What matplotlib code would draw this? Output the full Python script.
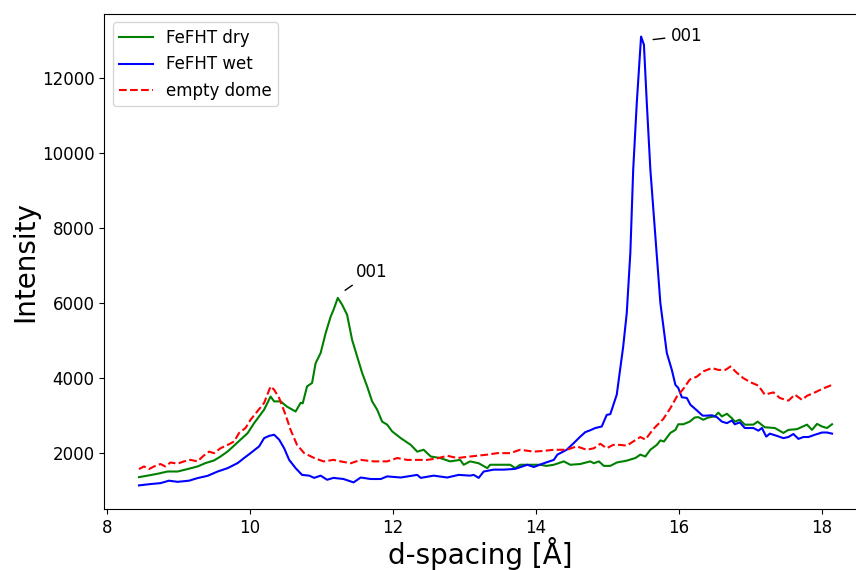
import matplotlib
matplotlib.use('Agg')
import matplotlib.pyplot as plt
import numpy as np

# values
dry_d = [8.45, 8.57, 8.71, 8.85, 8.99, 9.13, 9.27, 9.38, 9.50, 9.59, 9.69, 9.78, 9.87, 9.97, 10.06,
         10.20, 10.29, 10.34, 10.43, 10.52, 10.64,
         10.71, 10.74, 10.80, 10.87, 10.92, 10.99, 11.06, 11.13, 11.17, 11.23, 11.29, 11.36, 11.43, 11.50,
         11.57, 11.64, 11.71, 11.78, 11.85, 11.92, 11.99, 12.11, 12.25, 12.34, 12.43, 12.53, 12.66, 12.80,
         12.94, 12.99, 13.08, 13.20, 13.32, 13.36, 13.50, 13.64, 13.71, 13.78, 13.92, 14.06, 14.15, 14.25,
         14.39, 14.48, 14.62, 14.76, 14.81, 14.88, 14.95, 15.04, 15.13, 15.27, 15.39, 15.46, 15.53, 15.60,
         15.69, 15.74, 15.79, 15.88, 15.95, 15.99, 16.06, 16.15, 16.22, 16.27, 16.34, 16.41, 16.50, 16.55,
         16.60, 16.67, 16.74, 16.78, 16.85, 16.92, 17.04, 17.10, 17.20, 17.34, 17.46, 17.53, 17.65, 17.79,
         17.86, 17.93, 18.00, 18.07, 18.14]
dry_i = [1350, 1390, 1440, 1500, 1500, 1565, 1635, 1725, 1795, 1900, 2035, 2190, 2350, 2525, 2790,
         3150, 3500, 3370, 3370, 3230, 3100,
         3330, 3320, 3770, 3860, 4390, 4660, 5190, 5630, 5810, 6130, 5950, 5680, 5010, 4570,
         4130, 3770, 3370, 3150, 2830, 2750, 2570, 2390, 2210, 2030, 2080, 1900, 1860, 1770,
         1810, 1680, 1770, 1720, 1590, 1680, 1680, 1680, 1590, 1680, 1680, 1680, 1650, 1680,
         1770, 1680, 1700, 1770, 1720, 1770, 1650, 1650, 1740, 1790, 1860, 1950, 1900, 2080,
         2210, 2330, 2300, 2530, 2610, 2760, 2760, 2830, 2940, 2950, 2880, 2940, 2970, 3070,
         2970, 3040, 2920, 2830, 2880, 2750, 2750, 2830, 2680, 2660, 2530, 2610, 2630, 2750,
         2610, 2770, 2700, 2660, 2760]

wet_d = [8.45, 8.61, 8.75, 8.87, 8.99, 9.15, 9.27, 9.41, 9.55, 9.69, 9.83, 9.92, 10.01, 10.13, 10.20,
         10.27, 10.34, 10.41, 10.48, 10.55, 10.64, 10.73, 10.83, 10.90, 10.99, 11.08, 11.17, 11.31, 11.45,
         11.55, 11.69, 11.83, 11.92, 12.11, 12.34, 12.39, 12.57, 12.76, 12.92, 13.08, 13.13, 13.20, 13.27,
         13.41, 13.55, 13.71, 13.88, 13.97, 14.11, 14.25, 14.30, 14.43, 14.53, 14.62, 14.69, 14.76, 14.83,
         14.92, 14.99, 15.04, 15.13, 15.22, 15.27, 15.32, 15.36, 15.41, 15.47, 15.51, 15.55, 15.60, 15.67,
         15.74, 15.83, 15.90, 15.95, 15.99, 16.04, 16.11, 16.16, 16.25, 16.33, 16.39, 16.46, 16.53, 16.60,
         16.67, 16.74, 16.78, 16.85, 16.92, 17.04, 17.11, 17.16, 17.22, 17.27, 17.37, 17.46, 17.53, 17.60,
         17.67, 17.74, 17.81, 17.90, 18.00, 18.07, 18.14]
wet_i = [1130, 1165, 1190, 1255, 1225, 1255, 1325, 1385, 1500, 1590, 1725, 1860, 1990, 2170, 2390,
         2450, 2480, 2350, 2120, 1810, 1590, 1410, 1390, 1330, 1390, 1280, 1330, 1300, 1210,
         1340, 1300, 1300, 1370, 1340, 1410, 1330, 1390, 1340, 1410, 1390, 1410, 1330, 1500,
         1550, 1550, 1570, 1680, 1620, 1720, 1810, 1950, 2080, 2260, 2430, 2550, 2600, 2660,
         2700, 3010, 3030, 3550, 4830, 5730, 7330, 9550, 11330, 13100, 12880, 11330, 9550, 7770,
         5990, 4660, 4210, 3810, 3730, 3480, 3460, 3280, 3130, 2990, 2990, 3000, 2950, 2830,
         2790, 2860, 2760, 2810, 2660, 2660, 2590, 2660, 2430, 2510, 2450, 2390, 2420, 2500,
         2370, 2420, 2420, 2480, 2540, 2540, 2510]

dome_d = [8.45, 8.52, 8.59, 8.66, 8.75, 8.82, 8.89, 8.99, 9.08, 9.17, 9.27, 9.34, 9.43, 9.50, 9.59,
          9.69, 9.78, 9.85, 9.94, 10.01, 10.20, 10.29, 10.34, 10.41, 10.50,
          10.57, 10.66, 10.76, 10.90, 11.03, 11.17, 11.27, 11.41, 11.55, 11.73, 11.92, 12.06, 12.20, 12.34,
          12.48, 12.62, 12.76, 12.90, 13.08, 13.32, 13.46, 13.64, 13.78, 13.97, 14.11, 14.25, 14.43, 14.57,
          14.71, 14.81, 14.90, 14.99, 15.08, 15.18, 15.27, 15.36, 15.46, 15.53, 15.64, 15.78, 15.88, 15.97,
          16.06, 16.15, 16.25, 16.34, 16.46, 16.55, 16.65, 16.72, 16.81, 16.90, 17.00, 17.11, 17.20, 17.32,
          17.41, 17.53, 17.62, 17.72, 17.79, 17.88, 18.00, 18.14]
dome_i = [1565, 1635, 1565, 1635, 1700, 1635, 1740, 1710, 1770, 1810, 1770, 1900, 2030, 1990, 2120,
          2210, 2300, 2530, 2660, 2880, 3330, 3770, 3680, 3460, 3010,
          2610, 2210, 1990, 1860, 1770, 1810, 1770, 1720, 1810, 1770, 1770, 1860, 1810, 1810,
          1810, 1850, 1920, 1860, 1900, 1950, 1990, 1990, 2080, 2030, 2050, 2080, 2080, 2170,
          2080, 2120, 2240, 2120, 2210, 2210, 2190, 2300, 2420, 2350, 2630, 2900, 3190, 3500,
          3700, 3950, 4030, 4170, 4260, 4210, 4210, 4300, 4130, 3990, 3880, 3790, 3550, 3610,
          3460, 3390, 3550, 3410, 3520, 3590, 3700, 3810]


def main():
	plt.rcParams.update({'font.size': 12})
	fig = plt.figure(figsize=(8.56, 5.70), dpi=100)
	ax = fig.add_axes([0.1219, 0.107, 0.8781, 0.8684])

	ax.plot(dry_d, dry_i, color='g', lw=1.5, label='FeFHT dry')
	ax.plot(wet_d, wet_i, color='b', lw=1.5, label='FeFHT wet')
	ax.plot(dome_d, dome_i, color='r', lw=1.5, ls='--', label='empty dome')

	ax.annotate('001', xy=(11.30, 6290), xytext=(11.48, 6690), fontsize=12,
				arrowprops=dict(arrowstyle='-', color='k', lw=1))
	ax.annotate('001', xy=(15.60, 13010), xytext=(15.88, 12990), fontsize=12,
				arrowprops=dict(arrowstyle='-', color='k', lw=1))

	# the reference is cut off on the right
	ax.set_xlim(7.966, 18.475)
	ax.set_ylim(500, 13700)
	ax.spines['right'].set_visible(False)

	ax.set_xlabel('d-spacing [Å]', fontsize=20, labelpad=0.5)
	ax.set_ylabel('Intensity', fontsize=20, labelpad=2)
	ax.tick_params(labelsize=12)
	ax.legend(loc='upper left', prop={'size': 12})

	fig.savefig('out.png', dpi=100)
	plt.close('all')


if __name__ == '__main__':
	main()
